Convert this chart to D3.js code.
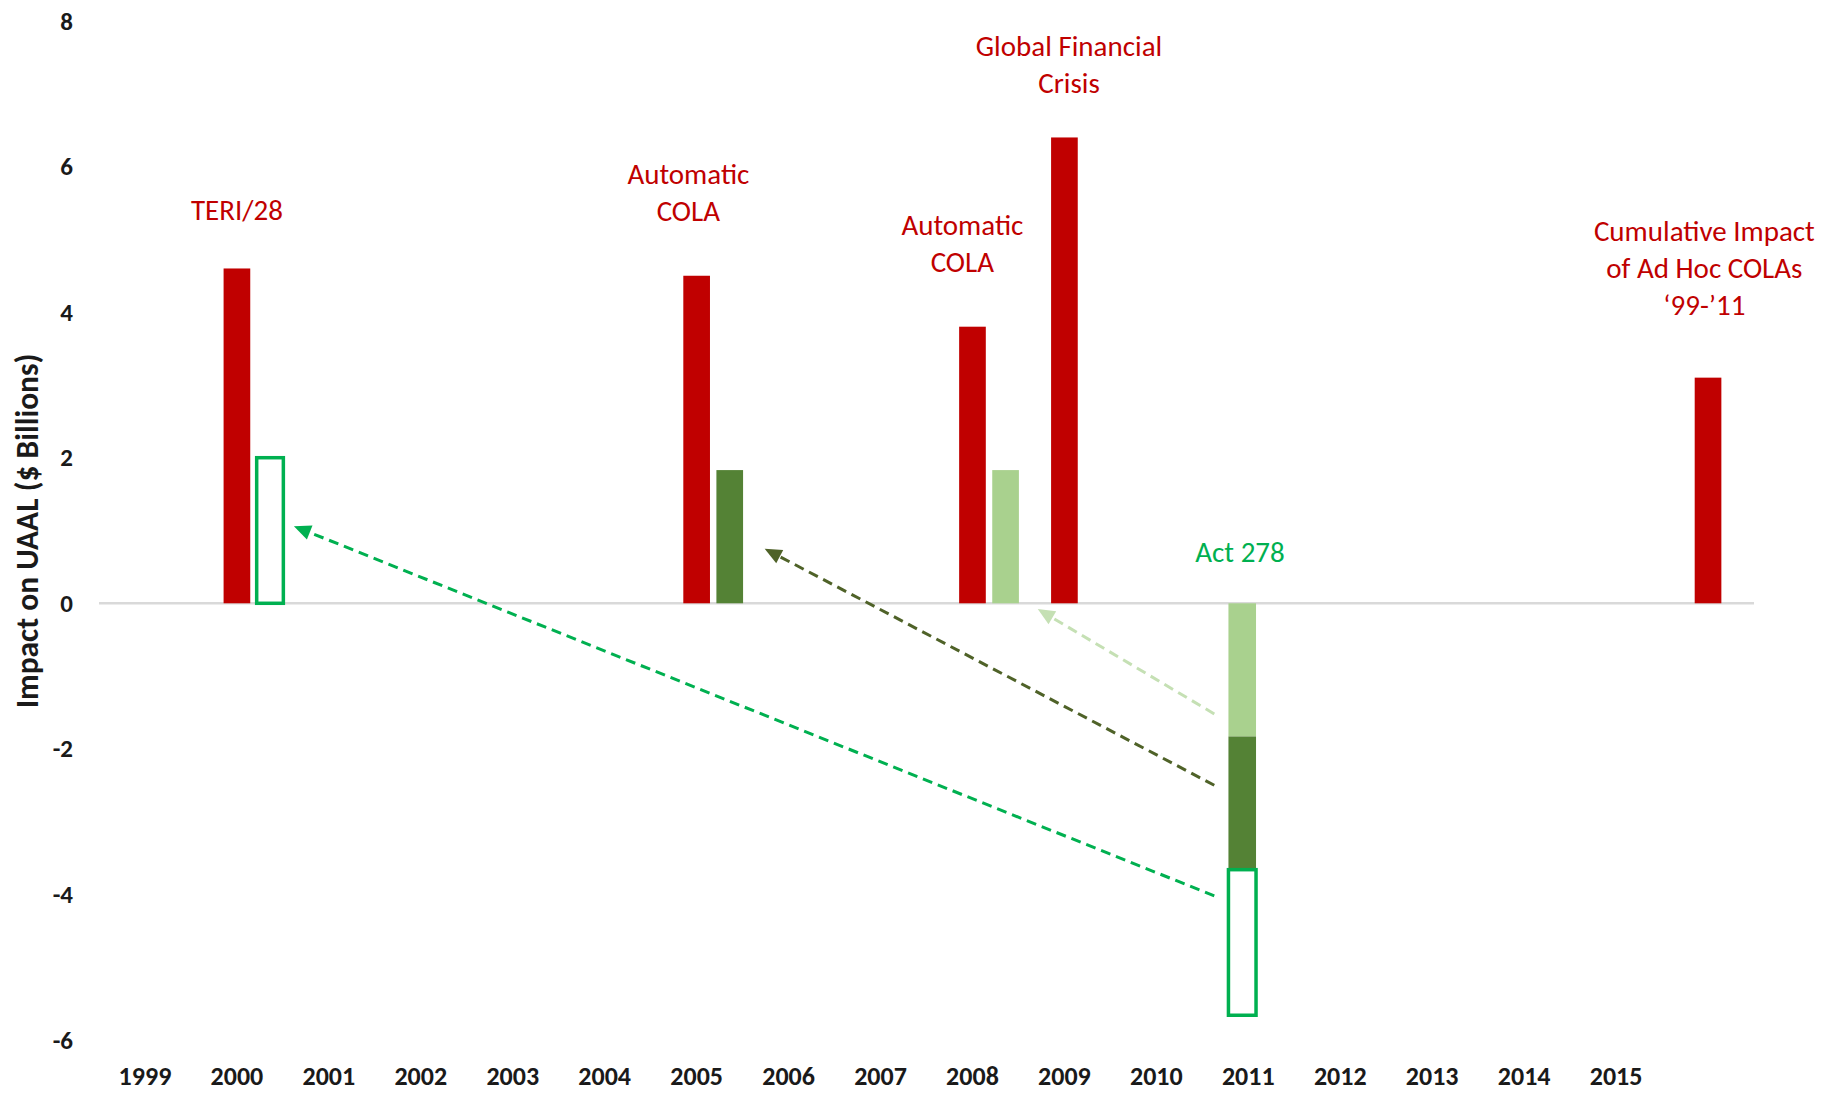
<!DOCTYPE html>
<html>
<head>
<meta charset="utf-8">
<script src="https://cdn.jsdelivr.net/npm/d3@7"></script>
<style>
  html, body { margin: 0; padding: 0; background: #fff; }
  svg { display: block; font-family: Carlito, Calibri, Lato, sans-serif; }
</style>
</head>
<body>
<svg id="chart" width="1831" height="1093"></svg>
<script>
// Years on the x axis (last slot holds the cumulative bar, unlabeled)
const categories = ['1999','2000','2001','2002','2003','2004','2005','2006','2007','2008',
                    '2009','2010','2011','2012','2013','2014','2015',''];

// Events that raised the UAAL ($ billions)
//                      1999  2000  2001  2002  2003  2004  2005  2006  2007  2008
const increaseValues = [null, 4.6,  null, null, null, null, 4.5,  null, null, 3.8,
//                      2009  2010  2011  2012  2013  2014  2015  cumulative
                        6.4,  null, null, null, null, null, null, 3.1];

// Portions later reversed by Act 278 (positive in the year they arose,
// negative, stacked, in 2011)
const teriOffset   = [null, 2.0,  null, null, null, null, null, null, null, null,
                      null, null, -2.0, null, null, null, null, null];
const cola2005Part = [null, null, null, null, null, null, 1.83, null, null, null,
                      null, null, -1.83, null, null, null, null, null];
const cola2008Part = [null, null, null, null, null, null, null, null, null, 1.83,
                      null, null, -1.83, null, null, null, null, null];

const yTicks = [-6, -4, -2, 0, 2, 4, 6, 8];

// Event labels: category, value anchor, lines
const eventLabels = [
  { cat: '2000', at: 5.4,  lines: ['TERI/28'], color: '#C00000', shift: 0 },
  { cat: '2005', at: 5.65, lines: ['Automatic', 'COLA'], color: '#C00000', shift: -0.09 },
  { cat: '2008', at: 4.94, lines: ['Automatic', 'COLA'], color: '#C00000', shift: -0.11 },
  { cat: '2009', at: 7.41, lines: ['Global Financial', 'Crisis'], color: '#C00000', shift: 0.05 },
  { cat: '',     at: 4.61, lines: ['Cumulative Impact', 'of Ad Hoc COLAs', '\u201899-\u201911'], color: '#C00000', shift: -0.04 },
  { cat: '2011', at: 0.7,  lines: ['Act 278'], color: '#00B050', shift: -0.09 }
];

// Dashed arrows linking the 2011 reversal back to each original increase
// (from/to given as category + fraction of a band, and value)
const arrows = [
  { from: ['2011', -0.37, -4.02], to: ['2000', 0.62, 1.06], color: '#00B050' },
  { from: ['2011', -0.37, -2.50], to: ['2005', 0.74, 0.75], color: '#4F6228' },
  { from: ['2011', -0.37, -1.52], to: ['2008', 0.71, -0.08], color: '#C5E0B4' }
];

const FONT = 'Carlito, Calibri, Lato, sans-serif';
const svg = d3.select('#chart');
const x = d3.scaleBand().domain(categories).range([99, 1754]).paddingInner(0).paddingOuter(0);
const bw = x.bandwidth();
const y = d3.scaleLinear().domain([-6, 8]).range([1040, 21]);
const xc = c => x(c) + bw / 2;

// zero line
svg.append('line')
  .attr('x1', 99).attr('x2', 1754)
  .attr('y1', y(0)).attr('y2', y(0))
  .attr('stroke', '#D9D9D9').attr('stroke-width', 2.5);

// y axis labels
const yAxis = d3.axisLeft(y).tickValues(yTicks).tickFormat(d => String(d)).tickSize(0).tickPadding(0);
const gy = svg.append('g').attr('transform', 'translate(73,0)').call(yAxis);
gy.select('.domain').remove();
gy.selectAll('text')
  .attr('font-family', FONT)
  .attr('font-size', 25).attr('font-weight', 700).attr('fill', '#1a1a1a');

// x axis labels
const xAxis = d3.axisBottom(x).tickSize(0).tickPadding(0);
const gx = svg.append('g').attr('transform', 'translate(0,1067)').call(xAxis);
gx.select('.domain').remove();
gx.selectAll('text')
  .attr('font-family', FONT)
  .attr('font-size', 26).attr('font-weight', 700).attr('fill', '#1a1a1a');

// y axis title
svg.append('text')
  .attr('transform', 'translate(38,531) rotate(-90)')
  .attr('text-anchor', 'middle')
  .attr('font-size', 31.5).attr('font-weight', 700).attr('fill', '#1a1a1a')
  .text('Impact on UAAL ($ Billions)');

// red bars
const idx = categories.map((c, i) => i);
svg.append('g').selectAll('rect')
  .data(idx.filter(i => increaseValues[i] != null))
  .join('rect')
  .attr('x', i => x(categories[i]) + bw * 0.355)
  .attr('width', bw * 0.29)
  .attr('y', i => y(Math.max(0, increaseValues[i])))
  .attr('height', i => Math.abs(y(increaseValues[i]) - y(0)))
  .attr('fill', '#C00000');

// green parts: side bars for positive values, stacked column for 2011
const greenSeries = [
  { vals: cola2008Part, fill: '#A9D18E', stroke: 'none' },
  { vals: cola2005Part, fill: '#548235', stroke: 'none' },
  { vals: teriOffset,   fill: '#ffffff', stroke: '#00B050' }
];
const negBase = categories.map(() => 0);
const posBase = categories.map(() => 0);
const gGreen = svg.append('g');
greenSeries.forEach(s => {
  const rows = idx.filter(i => s.vals[i] != null).map(i => {
    const v = s.vals[i];
    let y0, y1, left, w;
    if (v < 0) {
      y0 = negBase[i]; y1 = negBase[i] + v; negBase[i] = y1;
      left = x(categories[i]) + bw * 0.284; w = bw * 0.30;
    } else {
      y0 = posBase[i]; y1 = posBase[i] + v; posBase[i] = y1;
      left = x(categories[i]) + bw * 0.715; w = bw * 0.29;
    }
    return { y0, y1, left, w };
  });
  const hasStroke = s.stroke !== 'none';
  gGreen.append('g').selectAll('rect')
    .data(rows)
    .join('rect')
    .attr('x', d => d.left)
    .attr('width', d => d.w)
    .attr('y', d => y(Math.max(d.y0, d.y1)))
    .attr('height', d => Math.abs(y(d.y0) - y(d.y1)))
    .attr('fill', s.fill)
    .attr('stroke', hasStroke ? s.stroke : null)
    .attr('stroke-width', hasStroke ? 3.5 : null);
});

// dashed arrows with solid triangular heads
const px = ([c, f]) => xc(c) + f * bw;
arrows.forEach(a => {
  const x1 = px(a.from), y1 = y(a.from[2]);
  const tx = px(a.to), ty = y(a.to[2]);
  const ang = Math.atan2(ty - y1, tx - x1);
  const L = 17, W = 7.5;
  const bx = tx - L * Math.cos(ang), by = ty - L * Math.sin(ang);
  svg.append('line')
    .attr('x1', x1).attr('y1', y1)
    .attr('x2', bx).attr('y2', by)
    .attr('stroke', a.color).attr('stroke-width', 3)
    .attr('stroke-dasharray', '10,6');
  svg.append('path')
    .attr('d', `M${tx},${ty} L${bx + W * Math.sin(ang)},${by - W * Math.cos(ang)} L${bx - W * Math.sin(ang)},${by + W * Math.cos(ang)} Z`)
    .attr('fill', a.color);
});

// event labels
const lineH = 37;
eventLabels.forEach(l => {
  const t = svg.append('text')
    .attr('text-anchor', 'middle')
    .attr('font-family', FONT)
    .attr('font-size', 29)
    .attr('fill', l.color);
  const n = l.lines.length;
  l.lines.forEach((s, j) => {
    t.append('tspan')
      .attr('x', xc(l.cat) + l.shift * bw)
      .attr('y', y(l.at) + (j - (n - 1) / 2) * lineH)
      .attr('dy', '0.35em')
      .text(s);
  });
});
</script>
</body>
</html>
